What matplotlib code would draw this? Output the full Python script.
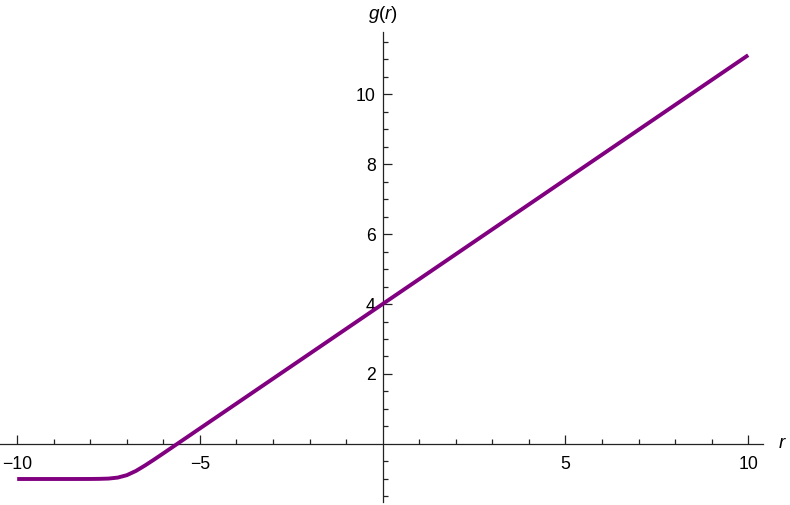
import matplotlib
matplotlib.use("Agg")
import matplotlib.pyplot as plt
from matplotlib.ticker import FixedLocator

# values
r_vals = [-10.0, -9.0, -8.5, -8.0, -7.75, -7.5, -7.25, -7.0, -6.75, -6.5,
          -6.25, -6.0, -5.5, -5.0, 0.0, 5.0, 10.0]
g_vals = [-1.0, -1.0, -1.0, -0.999, -0.996, -0.988, -0.960, -0.891, -0.769, -0.612,
          -0.442, -0.266, 0.0895, 0.445, 4.0, 7.555, 11.11]

x_major = [-10, -5, 5, 10]
x_minor = [-9, -8, -7, -6, -4, -3, -2, -1, 1, 2, 3, 4, 6, 7, 8, 9]
y_major = [2, 4, 6, 8, 10]
y_minor = [-1.5, -1.0, -0.5, 0.5, 1.0, 1.5, 2.5, 3.0, 3.5, 4.5, 5.0, 5.5, 6.5, 7.0, 7.5,
           8.5, 9.0, 9.5, 10.5, 11.0, 11.5]

plt.rcParams['font.family'] = ['Liberation Sans', 'DejaVu Sans']
plt.rcParams['mathtext.fontset'] = 'custom'
plt.rcParams['mathtext.rm'] = 'Liberation Sans'
plt.rcParams['mathtext.it'] = 'Liberation Sans:italic'

fig = plt.figure(figsize=(7.9, 5.05), dpi=100)
ax = fig.add_axes([0, 0, 1, 1])
ax.patch.set_alpha(0)

ax.plot(r_vals, g_vals, color='#800080', lw=2.8, solid_capstyle='butt', zorder=3)

ax.set_xlim(-10.47, 11.144)
ax.set_ylim(-1.743, 12.686)

for s in ['top', 'right']:
    ax.spines[s].set_visible(False)
ax.spines['bottom'].set_position(('data', 0))
ax.spines['left'].set_position(('data', 0))
ax.spines['bottom'].set_bounds(-10.47, 10.4)
ax.spines['left'].set_bounds(-1.66, 11.77)
for s in ['bottom', 'left']:
    ax.spines[s].set_linewidth(0.9)
    ax.spines[s].set_color('#222222')

ax.xaxis.set_major_locator(FixedLocator(x_major))
ax.xaxis.set_minor_locator(FixedLocator(x_minor))
ax.yaxis.set_major_locator(FixedLocator(y_major))
ax.yaxis.set_minor_locator(FixedLocator(y_minor))

ax.tick_params(axis='both', which='both', direction='in', colors='#222222', width=0.9)
ax.tick_params(axis='both', which='major', length=6.5, labelsize=12.7, labelcolor='black')
ax.tick_params(axis='both', which='minor', length=3.6)
ax.tick_params(axis='x', which='major', pad=9)
ax.tick_params(axis='y', which='major', pad=5)

ax.text(10.95, 0.0, r'$r$', fontsize=13.5, ha='center', va='center')
ax.text(0.0, 12.28, r'$g(r)$', fontsize=13.5, ha='center', va='center')

fig.savefig('out.png', dpi=100)
